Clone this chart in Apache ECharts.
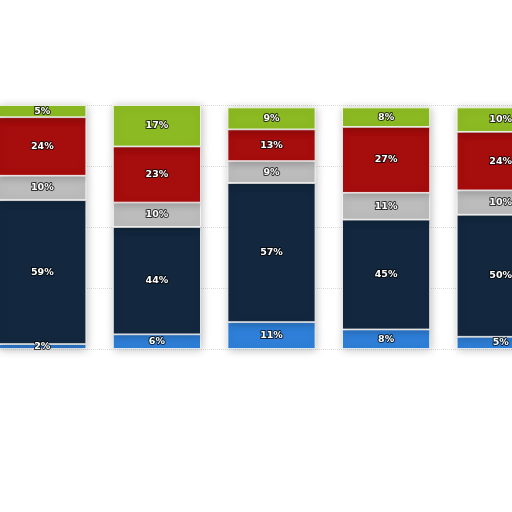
<!DOCTYPE html>
<html><head><meta charset="utf-8">
<script src="https://cdn.jsdelivr.net/npm/echarts@6/dist/echarts.min.js"></script>
<style>html,body{margin:0;padding:0;background:#fff;overflow:hidden;width:512px;height:512px}
#c{position:absolute;left:-15px;top:0;width:573px;height:512px}</style>
</head><body><div id="c"></div>
<script>
var categories = ['A', 'B', 'C', 'D', 'E'];
var seriesNames = ['S1', 'S2', 'S3', 'S4', 'S5'];
var blueVals  = [2, 6, 11, 8, 5];
var navyVals  = [59, 44, 57, 45, 50];
var grayVals  = [10, 10, 9, 11, 10];
var redVals   = [24, 23, 13, 27, 24];
var greenVals = [5, 17, 9, 8, 10];
var yTicks = [0, 25, 50, 75, 100];

var colors = ['#2f7fd8', '#13283f', '#bcbcbc', '#a60d0d', '#8cba22'];
var allVals = [blueVals, navyVals, grayVals, redVals, greenVals];

var chart = echarts.init(document.getElementById('c'), null, {renderer: 'canvas'});
chart.setOption({
  animation: false,
  backgroundColor: '#ffffff',
  grid: {left: 0, right: 0, top: 105, bottom: 163, containLabel: false},
  xAxis: {
    type: 'category', data: categories,
    axisLine: {show: false}, axisTick: {show: false}, axisLabel: {show: false}
  },
  yAxis: {
    type: 'value', min: yTicks[0], max: yTicks[yTicks.length - 1], interval: 25,
    axisLine: {show: false}, axisTick: {show: false}, axisLabel: {show: false},
    splitLine: {show: true, lineStyle: {color: '#dddddd', type: 'dotted', width: 1}}
  },
  series: allVals.map(function (vals, i) {
    return {
      name: seriesNames[i], type: 'bar', stack: 'total', barWidth: 88,
      data: vals,
      itemStyle: {
        color: colors[i], borderColor: '#ffffff', borderWidth: 0.8,
        shadowBlur: 8, shadowColor: 'rgba(0,0,0,0.25)', shadowOffsetX: 1, shadowOffsetY: 1
      },
      label: {
        show: true, position: 'inside', formatter: '{c}%',
        color: '#ffffff', fontSize: 9.5, fontWeight: 'bold', fontFamily: 'DejaVu Sans',
        textBorderColor: 'rgba(0,0,0,0.75)', textBorderWidth: 2
      }
    };
  })
});
</script>
</body></html>
